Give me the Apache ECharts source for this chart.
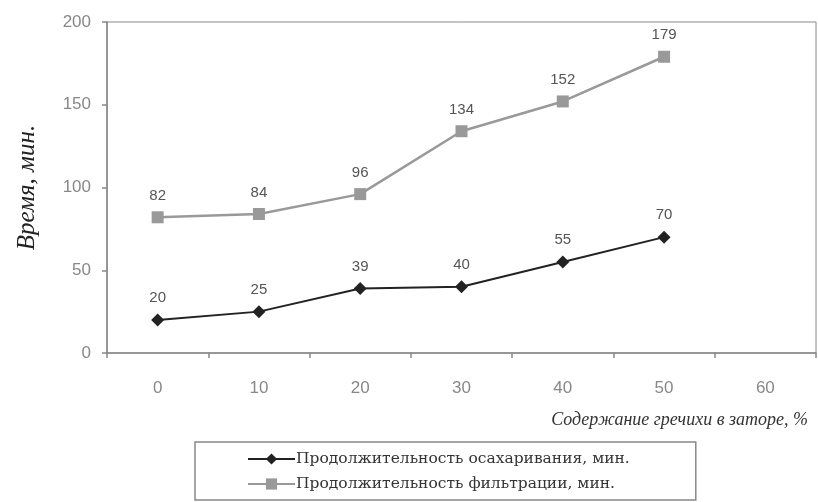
<!DOCTYPE html>
<html><head><meta charset="utf-8">
<script src="https://cdn.jsdelivr.net/npm/echarts@6/dist/echarts.min.js"></script>
<style>html,body{margin:0;padding:0;background:#fff}#c{width:818px;height:502px}</style>
</head><body><div id="c"></div>
<script>
const categories = ['0','10','20','30','40','50','60'];
const saccharification = [20,25,39,40,55,70];
const filtration = [82,84,96,134,152,179];
const seriesNames = ['Продолжительность осахаривания, мин.','Продолжительность фильтрации, мин.'];
const yTicks = {min:0, max:200, interval:50};

const chart = echarts.init(document.getElementById('c'));
chart.setOption({
  animation:false,
  backgroundColor:'#fff',
  grid:{left:107,right:2,top:22,bottom:149,show:true,borderColor:'#888',borderWidth:1},
  legend:{
    orient:'vertical', left:195, top:442, bottom:0,
    data:seriesNames,
    borderColor:'#888', borderWidth:1.5,
    padding:[9,66,8,52],
    itemGap:9, itemWidth:47, itemHeight:14,
    textStyle:{fontFamily:'DejaVu Serif',fontSize:15.5,color:'#333',padding:[0,0,0,-4]}
  },
  xAxis:{
    type:'category', data:categories, boundaryGap:true,
    axisLine:{lineStyle:{color:'#888',width:1.5}},
    axisTick:{show:true,length:5,inside:false,lineStyle:{color:'#888',width:1.5}},
    axisLabel:{color:'#888',fontSize:17,margin:27,fontFamily:'Liberation Sans'},
    name:'Содержание гречихи в заторе, %', nameLocation:'end', nameGap:-8,
    nameTextStyle:{fontFamily:'Liberation Serif',fontStyle:'italic',fontSize:18,color:'#333',align:'right',verticalAlign:'top',padding:[58,0,0,0]}
  },
  yAxis:{
    type:'value', min:yTicks.min, max:yTicks.max, interval:yTicks.interval,
    splitLine:{show:false},
    axisLine:{show:true,lineStyle:{color:'#888',width:1.5}},
    axisTick:{show:true,length:5,lineStyle:{color:'#888',width:1.5}},
    axisLabel:{color:'#888',fontSize:17,margin:16,fontFamily:'Liberation Sans'},
    name:'Время, мин.', nameLocation:'middle', nameGap:67,
    nameTextStyle:{fontFamily:'Liberation Serif',fontStyle:'italic',fontSize:25,color:'#222'}
  },
  series:[
    {name:seriesNames[0],type:'line',data:saccharification,symbol:'diamond',symbolSize:13,
     itemStyle:{color:'#222'},lineStyle:{color:'#222',width:2},
     label:{show:true,position:'top',distance:8,color:'#555',fontSize:15,fontFamily:'Liberation Sans'}},
    {name:seriesNames[1],type:'line',data:filtration,symbol:'rect',symbolSize:12,
     itemStyle:{color:'#999'},lineStyle:{color:'#999',width:2.5},
     label:{show:true,position:'top',distance:8,color:'#555',fontSize:15,fontFamily:'Liberation Sans'}}
  ]
});
</script></body></html>
